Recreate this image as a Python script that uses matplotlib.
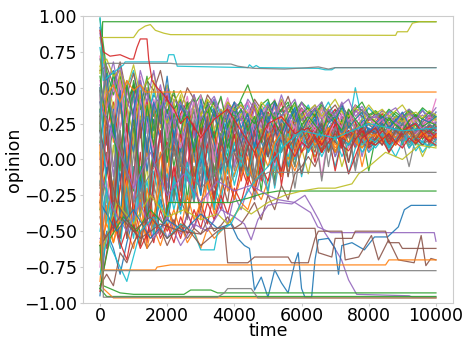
import matplotlib
matplotlib.use("Agg")
import matplotlib.pyplot as plt

# ---------------- data ----------------
# sample times of the noisy bulk of opinions
T_GRID = list(range(0, 10001, 200))

m01 = [0.92,
       0.55, 0.62, 0.48, 0.35, 0.52, 0.41, 0.30, 0.45, 0.38, 0.22,
       0.35, 0.41, 0.28, 0.33, 0.18, 0.30, 0.36, 0.25, 0.31, 0.22,
       0.34, 0.27, 0.19, 0.30, 0.26, 0.33, 0.21, 0.28, 0.24, 0.31,
       0.20, 0.27, 0.23, 0.29, 0.25, 0.18, 0.26, 0.22, 0.28, 0.24,
       0.21, 0.27, 0.23, 0.19, 0.25, 0.22, 0.26, 0.20, 0.24, 0.22]
m02 = [-0.85,
       -0.35, -0.52, -0.18, -0.41, -0.05, -0.30, 0.12, -0.22, 0.05, -0.15,
       0.10, -0.08, 0.18, 0.02, 0.25, -0.12, 0.15, 0.08, 0.22, 0.04,
       0.18, 0.28, 0.10, 0.21, 0.05, 0.24, 0.16, 0.30, 0.12, 0.20,
       0.26, 0.14, 0.22, 0.08, 0.19, 0.27, 0.15, 0.23, 0.11, 0.21,
       0.17, 0.25, 0.13, 0.22, 0.18, 0.28, 0.15, 0.23, 0.19, 0.16]
m03 = [0.35,
       0.15, -0.25, 0.05, -0.38, 0.22, -0.10, -0.45, 0.08, -0.20, 0.30,
       -0.05, 0.20, -0.28, 0.12, 0.35, -0.15, 0.05, 0.28, -0.10, 0.18,
       0.02, 0.25, 0.10, -0.22, 0.15, 0.32, 0.05, 0.20, -0.05, 0.25,
       0.12, 0.28, 0.18, 0.06, 0.24, 0.15, 0.30, 0.10, 0.22, 0.17,
       0.25, 0.12, 0.20, 0.28, 0.15, 0.21, 0.10, 0.24, 0.18, 0.26]
m04 = [-0.45,
       -0.55, -0.40, -0.62, -0.48, -0.30, -0.52, -0.44, -0.58, -0.35, -0.50,
       -0.42, -0.55, -0.38, -0.48, -0.30, -0.45, -0.22, -0.35, -0.12, -0.28,
       -0.05, -0.18, 0.05, -0.10, 0.12, 0.02, 0.18, 0.08, 0.22, 0.15,
       0.10, 0.20, 0.05, 0.16, 0.24, 0.12, 0.19, 0.08, 0.21, 0.14,
       0.18, 0.10, 0.22, 0.15, 0.25, 0.12, 0.19, 0.23, 0.16, 0.20]
m05 = [0.10,
       0.42, 0.18, 0.55, 0.30, 0.08, 0.45, 0.25, 0.38, 0.12, 0.40,
       0.22, 0.36, 0.15, 0.42, 0.28, 0.10, 0.33, 0.20, 0.38, 0.25,
       0.30, 0.18, 0.35, 0.26, 0.40, 0.22, 0.31, 0.15, 0.28, 0.34,
       0.24, 0.30, 0.19, 0.35, 0.26, 0.21, 0.32, 0.27, 0.18, 0.29,
       0.23, 0.30, 0.26, 0.20, 0.28, 0.24, 0.31, 0.22, 0.27, 0.25]
m06 = [-0.20,
       0.05, -0.32, 0.20, -0.15, 0.35, -0.40, 0.10, 0.28, -0.22, 0.15,
       0.30, -0.05, 0.22, -0.30, 0.10, 0.25, -0.08, 0.18, 0.35, 0.05,
       0.20, -0.12, 0.28, 0.15, 0.02, 0.25, 0.18, -0.05, 0.22, 0.30,
       0.15, 0.05, 0.25, 0.20, 0.12, 0.28, -0.02, 0.18, 0.24, 0.10,
       0.20, 0.26, 0.14, 0.22, 0.30, 0.18, 0.12, 0.24, 0.20, 0.15]
m07 = [0.55,
       0.30, 0.48, 0.60, 0.25, 0.42, 0.15, 0.50, 0.32, 0.45, 0.20,
       0.38, 0.28, 0.44, 0.15, 0.35, 0.40, 0.22, 0.30, 0.43, 0.26,
       0.35, 0.40, 0.28, 0.38, 0.32, 0.42, 0.25, 0.36, 0.30, 0.39,
       0.33, 0.27, 0.37, 0.30, 0.35, 0.28, 0.34, 0.25, 0.31, 0.36,
       0.30, 0.26, 0.33, 0.28, 0.32, 0.25, 0.29, 0.34, 0.27, 0.42]
m08 = [-0.65,
       -0.25, -0.48, -0.10, -0.55, -0.30, -0.05, -0.42, -0.18, -0.35, 0.02,
       -0.20, 0.08, -0.12, -0.30, 0.05, -0.15, 0.12, -0.02, 0.20, -0.08,
       0.10, 0.02, 0.18, -0.10, 0.12, 0.22, 0.05, 0.15, -0.20, 0.10,
       0.18, 0.08, 0.14, 0.22, 0.02, 0.16, 0.20, 0.10, 0.18, 0.05,
       0.15, 0.20, 0.08, 0.18, 0.12, 0.22, 0.16, 0.10, 0.19, 0.14]
m09 = [0.05,
       -0.30, 0.10, -0.45, -0.20, 0.15, -0.35, -0.05, -0.50, -0.15, 0.08,
       -0.25, 0.02, -0.38, -0.10, 0.15, -0.20, 0.05, -0.12, 0.18, -0.02,
       0.08, -0.15, 0.15, 0.05, -0.25, 0.12, 0.20, 0.00, 0.14, 0.08,
       -0.10, 0.12, 0.18, 0.05, 0.15, -0.05, 0.10, 0.20, 0.08, 0.14,
       0.10, 0.16, 0.05, 0.12, 0.18, 0.08, 0.14, 0.02, 0.12, 0.09]
m10 = [0.78,
       0.45, 0.58, 0.32, 0.50, 0.62, 0.38, 0.25, 0.48, 0.30, 0.42,
       0.28, 0.40, 0.33, 0.18, 0.38, 0.25, 0.42, 0.30, 0.20, 0.35,
       0.27, 0.38, 0.22, 0.33, 0.40, 0.28, 0.35, 0.24, 0.37, 0.30,
       0.38, 0.26, 0.32, 0.40, 0.29, 0.35, 0.22, 0.50, 0.28, 0.36,
       0.31, 0.27, 0.34, 0.29, 0.24, 0.32, 0.28, 0.35, 0.26, 0.33]
m11 = [-0.95,
       -0.50, -0.62, -0.80, -0.58, -0.40, -0.55, -0.35, -0.48, -0.28, -0.42,
       -0.20, -0.35, -0.10, -0.25, 0.02, -0.15, 0.10, -0.05, 0.15, 0.05,
       0.18, 0.08, 0.22, 0.12, 0.02, 0.20, 0.15, 0.25, 0.10, 0.18,
       0.22, 0.12, 0.25, 0.16, 0.20, 0.10, 0.24, 0.18, 0.15, 0.22,
       0.19, 0.24, 0.16, 0.21, 0.13, 0.20, 0.25, 0.17, 0.22, 0.19]
m12 = [0.25,
       0.50, 0.12, 0.38, -0.05, 0.28, 0.45, 0.02, 0.35, 0.18, -0.10,
       0.25, 0.12, 0.32, -0.02, 0.20, 0.35, 0.08, 0.28, 0.15, 0.30,
       0.12, 0.28, 0.20, 0.35, 0.05, 0.25, 0.30, 0.16, 0.27, 0.10,
       0.28, 0.20, 0.12, 0.30, 0.25, 0.15, 0.32, 0.22, 0.17, 0.26,
       0.22, 0.28, 0.18, 0.25, 0.30, 0.20, 0.26, 0.16, 0.24, 0.21]
m13 = [-0.35,
       -0.10, 0.25, -0.42, 0.05, -0.22, 0.30, -0.35, 0.12, -0.15, 0.22,
       -0.28, 0.10, 0.25, -0.18, 0.05, 0.30, -0.12, 0.18, 0.02, 0.26,
       -0.08, 0.15, 0.28, 0.05, 0.20, -0.15, 0.22, 0.10, 0.30, 0.12,
       0.20, 0.25, 0.05, 0.22, 0.15, 0.28, 0.10, 0.25, 0.18, -0.08,
       0.15, 0.22, 0.18, 0.26, 0.10, 0.20, 0.24, 0.14, 0.21, 0.17]
m14 = [0.48,
       0.20, 0.40, 0.05, 0.35, 0.52, 0.15, 0.42, 0.08, 0.30, 0.45,
       0.10, 0.32, 0.40, 0.20, 0.28, 0.05, 0.35, 0.22, 0.38, 0.15,
       0.30, 0.22, 0.38, 0.12, 0.33, 0.26, 0.40, 0.18, 0.28, 0.35,
       0.25, 0.32, 0.18, 0.28, 0.35, 0.22, 0.30, 0.26, 0.12, 0.29,
       0.26, 0.32, 0.22, 0.28, 0.18, 0.27, 0.31, 0.24, 0.29, 0.23]
m15 = [-0.55,
       -0.60, -0.38, -0.52, -0.25, -0.45, -0.58, -0.30, -0.48, -0.40, -0.55,
       -0.45, -0.52, -0.38, -0.48, -0.35, -0.50, -0.42, -0.30, -0.45, -0.25,
       -0.35, -0.20, -0.28, -0.10, -0.22, 0.02, -0.12, 0.10, 0.00, 0.12,
       0.05, 0.15, 0.08, 0.18, 0.02, 0.12, 0.20, 0.10, 0.16, 0.08,
       0.12, 0.18, 0.10, 0.15, 0.20, 0.08, 0.16, 0.12, 0.18, 0.14]
m16 = [0.62,
       0.65, 0.52, 0.68, 0.45, 0.60, 0.38, 0.55, 0.48, 0.62, 0.40,
       0.45, 0.35, 0.50, 0.42, 0.30, 0.45, 0.38, 0.28, 0.40, 0.33,
       0.38, 0.30, 0.42, 0.35, 0.27, 0.40, 0.33, 0.44, 0.30, 0.36,
       0.30, 0.36, 0.28, 0.33, 0.38, 0.30, 0.25, 0.34, 0.30, 0.27,
       0.32, 0.28, 0.25, 0.30, 0.27, 0.33, 0.29, 0.26, 0.31, 0.28]
m17 = [-0.75,
       -0.15, -0.40, 0.08, -0.28, -0.50, -0.12, -0.35, 0.02, -0.20, -0.42,
       -0.05, -0.25, 0.10, -0.18, 0.05, -0.30, 0.12, -0.08, 0.20, -0.02,
       0.15, -0.10, 0.22, 0.05, 0.18, -0.05, 0.25, 0.12, 0.02, 0.20,
       0.10, 0.22, -0.12, 0.18, 0.12, 0.25, 0.08, 0.20, 0.15, 0.05,
       0.20, 0.12, 0.25, 0.18, 0.08, 0.22, 0.15, 0.26, 0.13, 0.18]
m18 = [0.15,
       0.35, -0.05, 0.22, 0.40, -0.18, 0.30, 0.10, -0.25, 0.18, 0.35,
       0.02, 0.20, -0.15, 0.28, 0.12, -0.05, 0.30, 0.15, -0.20, 0.22,
       0.15, 0.28, -0.10, 0.20, 0.32, 0.08, 0.18, -0.12, 0.25, 0.15,
       0.22, 0.08, 0.28, 0.18, 0.12, 0.25, 0.20, -0.05, 0.22, 0.15,
       0.25, 0.18, 0.12, 0.22, 0.28, 0.15, 0.20, 0.26, 0.10, 0.21]
m19 = [0.85,
       0.60, 0.35, 0.55, 0.20, 0.45, 0.28, 0.50, 0.15, 0.38, 0.25,
       0.40, 0.18, 0.32, 0.45, 0.22, 0.35, 0.12, 0.30, 0.25, 0.40,
       0.20, 0.33, 0.25, 0.38, 0.15, 0.30, 0.22, 0.36, 0.28, 0.18,
       0.32, 0.25, 0.36, 0.20, 0.30, 0.34, 0.22, 0.28, 0.35, 0.24,
       0.28, 0.34, 0.23, 0.30, 0.26, 0.32, 0.20, 0.29, 0.33, 0.27]
m20 = [-0.15,
       -0.45, -0.20, -0.55, -0.30, -0.05, -0.40, -0.15, -0.48, -0.25, -0.10,
       -0.35, -0.15, -0.40, -0.05, -0.25, 0.08, -0.18, -0.30, 0.02, -0.12,
       0.05, -0.08, 0.12, -0.02, 0.15, -0.20, 0.08, 0.18, 0.00, 0.10,
       0.14, 0.02, 0.10, 0.18, 0.06, 0.12, -0.10, 0.08, 0.15, 0.05,
       0.10, 0.15, 0.06, 0.12, 0.18, 0.08, 0.14, 0.05, 0.11, 0.10]
m21 = [0.40,
       0.10, 0.32, -0.15, 0.25, 0.05, 0.40, -0.08, 0.28, 0.15, 0.35,
       0.18, 0.05, 0.30, 0.22, -0.05, 0.28, 0.15, 0.35, 0.08, 0.25,
       0.30, 0.12, 0.22, 0.35, 0.18, 0.05, 0.28, 0.20, 0.32, 0.15,
       0.25, 0.30, 0.15, 0.22, 0.28, 0.18, 0.33, 0.20, 0.26, 0.12,
       0.22, 0.27, 0.30, 0.18, 0.25, 0.21, 0.28, 0.24, 0.20, 0.26]
m22 = [-0.60,
       -0.45, -0.58, -0.35, -0.50, -0.62, -0.40, -0.55, -0.48, -0.60, -0.45,
       -0.52, -0.45, -0.58, -0.50, -0.62, -0.48, -0.55, -0.50, -0.45, -0.40,
       -0.30, -0.35, -0.20, -0.28, -0.15, -0.05, -0.12, 0.02, -0.08, 0.05,
       0.10, 0.02, 0.12, 0.18, 0.08, 0.14, 0.20, 0.12, 0.16, 0.10,
       0.14, 0.18, 0.12, 0.20, 0.15, 0.10, 0.17, 0.21, 0.14, 0.16]
m23 = [0.98,
       0.62, 0.45, 0.58, 0.40, 0.52, 0.35, 0.48, 0.30, 0.42, 0.50,
       0.35, 0.42, 0.28, 0.38, 0.45, 0.32, 0.40, 0.25, 0.36, 0.30,
       0.42, 0.52, 0.38, 0.28, 0.36, 0.41, 0.30, 0.38, 0.33, 0.40,
       0.35, 0.30, 0.38, 0.33, 0.28, 0.36, 0.31, 0.38, 0.34, 0.30,
       0.33, 0.29, 0.35, 0.31, 0.28, 0.34, 0.30, 0.36, 0.32, 0.29]
m24 = [-0.30,
       -0.05, -0.35, 0.15, -0.22, 0.28, -0.10, -0.40, 0.05, -0.25, 0.12,
       -0.15, 0.18, -0.05, 0.25, -0.22, 0.10, 0.20, -0.08, 0.15, 0.28,
       -0.02, 0.20, 0.12, -0.15, 0.25, 0.10, 0.18, 0.28, 0.05, 0.22,
       0.18, -0.02, 0.22, 0.15, 0.25, 0.10, 0.20, 0.14, 0.24, 0.08,
       0.18, 0.22, 0.10, 0.20, 0.15, 0.25, 0.12, 0.19, 0.23, 0.20]
m25 = [0.00,
       0.28, -0.12, 0.40, 0.10, -0.30, 0.22, 0.35, -0.05, 0.18, -0.20,
       0.12, 0.30, -0.10, 0.20, 0.05, 0.32, -0.18, 0.15, 0.25, -0.05,
       0.22, 0.10, 0.28, -0.08, 0.18, 0.25, 0.12, 0.30, 0.08, 0.20,
       0.12, 0.26, 0.20, 0.08, 0.22, 0.30, 0.16, 0.24, 0.02, 0.20,
       0.24, 0.16, 0.20, 0.27, 0.12, 0.22, 0.18, 0.25, 0.20, 0.15]
m26 = [-0.88,
       -0.80, -0.88, -0.65, -0.72, -0.58, -0.50, -0.62, -0.55, -0.48, -0.60,
       -0.50, -0.45, -0.55, -0.48, -0.52, -0.42, -0.50, -0.46, -0.40, -0.48,
       -0.45, -0.38, -0.30, -0.42, -0.25, -0.35, -0.18, -0.28, -0.10, -0.05,
       0.02, -0.05, 0.08, 0.12, 0.05, 0.15, 0.10, 0.18, 0.12, 0.08,
       0.12, 0.16, 0.10, 0.14, 0.18, 0.12, 0.15, 0.10, 0.14, 0.12]
m27 = [0.72,
       0.38, 0.55, 0.22, 0.48, 0.30, 0.58, 0.18, 0.42, 0.28, 0.50,
       0.32, 0.20, 0.40, 0.28, 0.45, 0.15, 0.35, 0.42, 0.25, 0.38,
       0.28, 0.40, 0.18, 0.32, 0.38, 0.24, 0.42, 0.30, 0.20, 0.35,
       0.30, 0.22, 0.35, 0.28, 0.18, 0.32, 0.26, 0.38, 0.22, 0.30,
       0.27, 0.22, 0.30, 0.25, 0.32, 0.20, 0.28, 0.24, 0.30, 0.26]
m28 = [-0.05,
       -0.38, -0.15, 0.20, -0.45, 0.05, -0.28, 0.15, -0.52, -0.10, 0.25,
       -0.30, 0.05, -0.42, 0.12, -0.15, 0.20, -0.35, 0.08, -0.05, 0.22,
       -0.10, 0.15, -0.28, 0.20, 0.05, -0.18, 0.22, 0.12, -0.05, 0.18,
       0.05, 0.20, -0.15, 0.15, 0.22, 0.08, 0.18, -0.08, 0.15, 0.20,
       0.12, 0.18, 0.05, 0.20, 0.14, -0.05, 0.16, 0.22, 0.10, 0.18]
m29 = [0.30,
       0.55, 0.25, 0.62, 0.38, 0.15, 0.48, 0.30, 0.55, 0.22, 0.40,
       0.28, 0.45, 0.15, 0.38, 0.30, 0.42, 0.20, 0.35, 0.28, 0.10,
       0.32, 0.25, 0.40, 0.18, 0.30, 0.36, 0.22, 0.12, 0.34, 0.28,
       0.22, 0.34, 0.28, 0.16, 0.30, 0.25, 0.35, 0.20, 0.28, 0.32,
       0.26, 0.20, 0.29, 0.24, 0.31, 0.22, 0.27, 0.18, 0.25, 0.29]
m30 = [-0.50,
       -0.20, -0.45, 0.02, -0.32, -0.55, -0.15, -0.38, -0.08, -0.30, -0.48,
       -0.12, -0.30, -0.02, -0.25, 0.08, -0.18, -0.35, 0.02, -0.10, 0.12,
       -0.05, 0.10, -0.18, 0.05, 0.15, -0.08, 0.12, 0.02, 0.18, -0.12,
       0.08, 0.15, 0.02, 0.12, -0.05, 0.14, 0.10, 0.18, 0.05, 0.12,
       0.08, 0.14, 0.10, 0.02, 0.12, 0.16, 0.06, 0.13, 0.09, 0.11]
m31 = [0.20,
       -0.10, 0.35, -0.40, 0.15, 0.48, -0.22, 0.30, -0.05, 0.40, -0.30,
       0.20, -0.15, 0.32, 0.05, -0.25, 0.28, 0.12, -0.10, 0.25, 0.35,
       0.10, 0.28, 0.18, -0.05, 0.30, 0.20, 0.12, 0.26, 0.34, 0.15,
       0.22, 0.28, 0.14, 0.25, 0.30, 0.18, 0.24, 0.12, 0.27, 0.21,
       0.19, 0.25, 0.22, 0.28, 0.16, 0.23, 0.26, 0.20, 0.24, 0.22]
m32 = [-0.70,
       -0.40, -0.15, -0.55, 0.10, -0.35, -0.60, -0.20, -0.45, 0.05, -0.30,
       -0.50, -0.20, -0.38, -0.05, -0.42, -0.15, -0.30, 0.05, -0.22, -0.10,
       0.02, -0.15, 0.10, -0.05, 0.18, 0.05, -0.10, 0.15, 0.08, 0.20,
       0.12, 0.18, 0.05, 0.22, 0.10, 0.16, 0.25, 0.12, 0.08, 0.18,
       0.16, 0.12, 0.20, 0.15, 0.22, 0.18, 0.12, 0.19, 0.15, 0.17]
m33 = [0.58,
       0.25, 0.60, 0.40, 0.12, 0.55, 0.35, 0.58, 0.20, 0.45, 0.32,
       0.48, 0.25, 0.38, 0.42, 0.18, 0.40, 0.30, 0.44, 0.22, 0.36,
       0.40, 0.30, 0.25, 0.38, 0.42, 0.28, 0.35, 0.40, 0.26, 0.32,
       0.36, 0.30, 0.40, 0.26, 0.33, 0.38, 0.29, 0.35, 0.40, 0.31,
       0.34, 0.30, 0.27, 0.33, 0.29, 0.35, 0.31, 0.28, 0.33, 0.30]
m34 = [-0.25,
       0.18, -0.50, -0.20, 0.25, -0.42, 0.05, -0.58, -0.15, 0.20, -0.38,
       -0.05, -0.32, 0.15, -0.20, 0.22, -0.10, -0.28, 0.12, -0.02, 0.18,
       -0.15, 0.08, 0.20, -0.05, 0.12, 0.25, -0.18, 0.10, 0.22, 0.05,
       0.15, 0.22, 0.10, 0.18, -0.08, 0.14, 0.20, 0.16, 0.22, 0.10,
       0.14, 0.20, 0.16, 0.10, 0.18, 0.22, 0.13, 0.17, 0.20, 0.15]
m35 = [0.88,
       0.50, 0.68, 0.42, 0.55, 0.30, 0.62, 0.45, 0.35, 0.52, 0.28,
       0.42, 0.36, 0.30, 0.45, 0.25, 0.38, 0.44, 0.32, 0.28, 0.40,
       0.35, 0.28, 0.40, 0.32, 0.25, 0.38, 0.30, 0.36, 0.42, 0.27,
       0.32, 0.38, 0.28, 0.35, 0.30, 0.40, 0.26, 0.33, 0.37, 0.30,
       0.29, 0.34, 0.31, 0.26, 0.32, 0.35, 0.28, 0.31, 0.27, 0.33]
m36 = [-0.40,
       -0.62, -0.35, -0.55, -0.20, -0.48, -0.60, -0.38, -0.25, -0.52, -0.32,
       -0.45, -0.28, -0.40, -0.18, -0.35, -0.05, -0.25, -0.12, -0.30, 0.05,
       -0.08, 0.10, -0.15, 0.05, 0.15, -0.02, 0.20, 0.08, 0.15, -0.10,
       0.10, 0.16, 0.05, 0.20, 0.12, 0.08, 0.18, 0.14, 0.20, 0.10,
       0.15, 0.10, 0.18, 0.12, 0.16, 0.20, 0.14, 0.10, 0.17, 0.13]
m37 = [0.45,
       -0.05, 0.30, 0.55, 0.10, -0.20, 0.42, 0.25, 0.05, 0.50, 0.15,
       0.35, 0.08, 0.25, 0.40, 0.12, 0.30, -0.02, 0.28, 0.38, 0.18,
       0.25, 0.35, 0.12, 0.28, 0.20, 0.38, 0.15, 0.30, 0.22, 0.10,
       0.26, 0.20, 0.32, 0.15, 0.28, 0.22, 0.35, 0.18, 0.25, 0.30,
       0.24, 0.28, 0.20, 0.26, 0.22, 0.30, 0.25, 0.21, 0.28, 0.24]
m38 = [-0.10,
       0.22, -0.28, 0.45, -0.12, 0.30, -0.40, 0.15, 0.38, -0.25, 0.08,
       0.28, -0.18, 0.12, 0.35, -0.10, 0.22, 0.05, -0.25, 0.18, 0.30,
       0.05, 0.22, -0.12, 0.18, 0.28, 0.10, -0.08, 0.25, 0.15, 0.32,
       0.20, 0.12, 0.28, -0.05, 0.22, 0.18, 0.26, 0.15, 0.20, 0.25,
       0.20, 0.16, 0.24, 0.18, 0.26, 0.12, 0.22, 0.19, 0.25, 0.21]
m39 = [0.65,
       0.70, 0.58, 0.62, 0.50, 0.66, 0.45, 0.55, 0.60, 0.38, 0.52,
       0.40, 0.48, 0.35, 0.44, 0.30, 0.42, 0.36, 0.28, 0.40, 0.34,
       0.38, 0.32, 0.28, 0.40, 0.35, 0.30, 0.42, 0.33, 0.38, 0.29,
       0.34, 0.38, 0.30, 0.36, 0.42, 0.33, 0.30, 0.36, 0.32, 0.38,
       0.32, 0.35, 0.30, 0.34, 0.38, 0.31, 0.33, 0.29, 0.34, 0.31]
m40 = [-0.80,
       -0.55, -0.30, -0.62, -0.18, -0.45, -0.05, -0.35, -0.52, -0.22, -0.40,
       -0.15, -0.38, -0.08, -0.28, 0.05, -0.20, -0.32, -0.10, 0.08, -0.18,
       0.02, -0.12, 0.12, 0.00, -0.22, 0.10, 0.18, -0.05, 0.12, 0.20,
       0.05, 0.14, 0.20, 0.08, 0.16, 0.02, 0.12, 0.18, 0.10, 0.15,
       0.12, 0.18, 0.08, 0.14, 0.20, 0.10, 0.16, 0.12, 0.08, 0.14]
m41 = [0.33,
       0.60, 0.15, 0.48, -0.10, 0.35, 0.55, 0.05, 0.40, 0.25, 0.58,
       0.15, 0.38, 0.28, 0.05, 0.42, 0.20, 0.35, 0.10, 0.30, 0.40,
       0.22, 0.32, 0.08, 0.35, 0.25, 0.40, 0.18, 0.28, 0.36, 0.20,
       0.28, 0.35, 0.20, 0.30, 0.25, 0.38, 0.22, 0.28, 0.33, 0.18,
       0.25, 0.30, 0.22, 0.27, 0.33, 0.24, 0.20, 0.28, 0.26, 0.30]
m42 = [-0.58,
       -0.32, -0.58, -0.42, -0.15, -0.50, -0.28, -0.62, -0.40, -0.18, -0.48,
       -0.35, -0.50, -0.25, -0.42, -0.30, -0.15, -0.38, -0.22, -0.05, -0.28,
       -0.12, 0.02, -0.20, 0.08, -0.05, 0.12, 0.20, -0.10, 0.05, 0.15,
       0.20, 0.10, 0.15, 0.22, 0.05, 0.18, 0.12, 0.20, -0.05, 0.15,
       0.18, 0.14, 0.20, 0.10, 0.16, 0.22, 0.15, 0.19, 0.13, 0.17]
m43 = [0.12,
       0.45, 0.20, -0.08, 0.52, 0.28, -0.15, 0.38, 0.10, 0.48, -0.02,
       0.32, 0.18, 0.40, 0.05, 0.25, 0.38, 0.15, 0.32, 0.08, 0.28,
       0.35, 0.20, 0.30, 0.12, 0.38, 0.26, 0.18, 0.32, 0.40, 0.24,
       0.30, 0.24, 0.18, 0.32, 0.27, 0.20, 0.35, 0.28, 0.22, 0.30,
       0.26, 0.22, 0.29, 0.24, 0.20, 0.27, 0.31, 0.23, 0.26, 0.24]
m44 = [-0.92,
       -0.65, -0.40, -0.58, -0.70, -0.45, -0.62, -0.52, -0.38, -0.55, -0.45,
       -0.58, -0.40, -0.52, -0.35, -0.48, -0.30, -0.42, -0.25, -0.38, -0.20,
       -0.30, -0.12, -0.22, -0.05, -0.15, 0.05, -0.08, 0.10, 0.02, 0.12,
       0.08, 0.15, 0.05, 0.12, 0.18, 0.10, 0.06, 0.14, 0.20, 0.12,
       0.10, 0.14, 0.18, 0.12, 0.08, 0.15, 0.11, 0.16, 0.13, 0.10]
m45 = [0.52,
       0.35, 0.50, 0.65, 0.42, 0.28, 0.55, 0.40, 0.62, 0.35, 0.48,
       0.25, 0.40, 0.32, 0.45, 0.28, 0.36, 0.42, 0.20, 0.38, 0.32,
       0.28, 0.42, 0.35, 0.22, 0.38, 0.30, 0.45, 0.32, 0.26, 0.40,
       0.30, 0.35, 0.40, 0.27, 0.32, 0.38, 0.42, 0.30, 0.35, 0.28,
       0.30, 0.27, 0.33, 0.36, 0.29, 0.32, 0.28, 0.34, 0.30, 0.36]
m46 = [-0.18,
       0.30, -0.38, 0.12, -0.55, -0.10, 0.25, -0.45, 0.02, 0.35, -0.28,
       0.10, -0.22, 0.25, -0.12, 0.05, 0.30, -0.20, 0.15, -0.05, 0.22,
       0.12, -0.08, 0.20, 0.28, 0.02, 0.18, 0.25, -0.12, 0.15, 0.22,
       0.10, 0.18, 0.25, 0.05, 0.20, 0.14, -0.02, 0.22, 0.16, 0.20,
       0.18, 0.22, 0.12, 0.20, 0.16, 0.24, 0.14, 0.21, 0.18, 0.23]

MASS = [m01, m02, m03, m04, m05, m06, m07, m08, m09, m10,
        m11, m12, m13, m14, m15, m16, m17, m18, m19, m20,
        m21, m22, m23, m24, m25, m26, m27, m28, m29, m30,
        m31, m32, m33, m34, m35, m36, m37, m38, m39, m40,
        m41, m42, m43, m44, m45, m46]

# individually traced opinions that stay apart from the bulk
green_top_t = [0, 80, 10000]
green_top_v = [0.20, 0.96, 0.96]

olive_top_t = [0, 60, 1000, 1150, 1350, 1500, 1650, 1900, 2100, 8800, 8850, 9150, 9300, 9500, 10000]
olive_top_v = [0.60, 0.85, 0.85, 0.90, 0.93, 0.94, 0.90, 0.88, 0.87, 0.865, 0.89, 0.89, 0.95, 0.96, 0.96]

cyan_hi_t = [0, 100, 700, 750, 2000, 2050, 2200, 2300, 4400, 4450, 4550, 4650, 4750, 6500, 6700, 6900, 7000, 10000]
cyan_hi_v = [1.00, 0.55, 0.66, 0.68, 0.68, 0.73, 0.73, 0.65, 0.64, 0.66, 0.64, 0.655, 0.64, 0.635, 0.625, 0.625, 0.64, 0.64]

gray_hi_t = [0, 200, 2100, 2300, 3900, 4100, 4400, 4600, 5500, 6200, 6500, 6800, 7000, 10000]
gray_hi_v = [0.30, 0.67, 0.67, 0.665, 0.665, 0.65, 0.64, 0.635, 0.63, 0.64, 0.645, 0.63, 0.64, 0.64]

orange_mid_t = [0, 200, 400, 600, 800, 1000, 1200, 1350, 10000]
orange_mid_v = [-0.30, 0.45, 0.52, 0.40, 0.55, 0.48, 0.52, 0.47, 0.47]

red_hi_t = [0, 100, 300, 600, 900, 1000, 1100, 1200, 1400, 1450, 1550, 1700, 1900, 2200, 2400,
            2600, 3000, 3400, 3800, 4200, 4600, 5000, 5400, 5800, 6200, 6600, 7000, 7400, 7800,
            8200, 8600, 9000, 9400, 9800, 10000]
red_hi_v = [0.90, 0.75, 0.72, 0.73, 0.70, 0.70, 0.78, 0.84, 0.84, 0.70, 0.55, 0.50, 0.45, 0.35, 0.25,
            0.30, 0.15, 0.28, 0.35, 0.20, 0.05, 0.25, 0.30, 0.18, 0.22, 0.10, 0.28, -0.10, 0.15,
            0.22, 0.05, 0.20, 0.25, 0.12, 0.18]

green_mid_t = [0, 300, 700, 1100, 1500, 1900, 2050, 3900, 4400, 4800, 5300, 10000]
green_mid_v = [-0.90, -0.55, -0.40, -0.50, -0.35, -0.45, -0.30, -0.30, -0.27, -0.24, -0.22, -0.22]

olive_low_t = [0, 500, 1000, 1500, 2000, 2500, 3000, 3500, 3800, 4200, 4500, 5000, 5500, 6000,
               6500, 7000, 7500, 7700, 8000, 8500, 9000, 9500, 10000]
olive_low_v = [-0.70, -0.30, -0.45, -0.25, -0.40, -0.35, -0.42, -0.38, -0.45, -0.33, -0.38, -0.30,
               -0.25, -0.22, -0.20, -0.20, -0.17, -0.10, -0.05, 0.05, 0.00, 0.10, 0.08]

purple_a_t = [0, 400, 800, 1200, 1600, 2000, 2400, 2800, 3200, 3600, 4000, 4300, 4500, 4700, 5000,
              5330, 5710, 6100, 6300, 6510, 6690, 6890, 7190, 7400, 7640, 9200, 9300, 10000]
purple_a_v = [-0.10, -0.35, -0.50, -0.30, -0.55, -0.40, -0.60, -0.45, -0.50, -0.35, -0.40, -0.45,
              -0.56, -0.42, -0.32, -0.30, -0.31, -0.25, -0.33, -0.42, -0.51, -0.58, -0.70, -0.84,
              -0.94, -0.95, -0.96, -0.96]

purple_b_t = [0, 500, 1000, 1500, 2000, 2500, 3000, 3500, 4000, 4500, 5000, 5300, 5800, 6270,
              6480, 6870, 9950, 10000]
purple_b_v = [0.40, 0.10, -0.20, 0.05, -0.25, -0.10, -0.30, -0.15, -0.22, -0.18, -0.25, -0.28,
              -0.30, -0.37, -0.47, -0.51, -0.51, -0.57]

blue_low_t = [0, 500, 1000, 1500, 2000, 2500, 3000, 3500, 3900, 4100, 4300, 4450, 4600, 4800,
              5000, 5200, 5400, 5600, 5800, 5900, 6000, 6100, 6300, 6400, 6500, 6800, 7000,
              7100, 7200, 7500, 7870, 8170, 8560, 8880, 9060, 9260, 10000]
blue_low_v = [-0.30, -0.50, -0.35, -0.55, -0.42, -0.50, -0.38, -0.48, -0.45, -0.55, -0.60, -0.62,
              -0.91, -0.82, -0.96, -0.77, -0.86, -0.93, -0.72, -0.65, -0.90, -0.96, -0.96, -0.70,
              -0.56, -0.55, -0.62, -0.80, -0.60, -0.58, -0.63, -0.54, -0.54, -0.47, -0.35, -0.32,
              -0.32]

cyan_low_t = [0, 300, 600, 800, 1200, 1600, 2000, 2400, 2800, 3000, 3400, 3500, 3900, 4200,
              4600, 5000, 5500, 6000, 7000, 8000, 9000, 10000]
cyan_low_v = [0.50, -0.60, -0.75, -0.85, -0.50, -0.40, -0.55, -0.45, -0.51, -0.63, -0.63, -0.51,
              -0.45, -0.30, -0.15, -0.05, 0.10, 0.20, 0.15, 0.25, 0.20, 0.22]

brown_a_t = [0, 600, 1200, 1800, 2400, 3000, 3200, 6400, 6500, 6900, 7000, 7500, 7600, 8500,
             8600, 8900, 9000, 10000]
brown_a_v = [-0.60, -0.40, -0.55, -0.45, -0.50, -0.52, -0.48, -0.48, -0.65, -0.68, -0.55, -0.55,
             -0.50, -0.50, -0.58, -0.58, -0.62, -0.62]

brown_b_t = [0, 500, 1000, 1500, 2000, 2500, 3000, 3500, 3700, 3800, 4400, 4600, 5600, 5700,
             6200, 6400, 6500, 7200, 7300, 7700, 8080, 8290, 8590, 8880, 9350, 9560, 9700,
             9850, 10000]
brown_b_v = [0.20, -0.30, -0.50, -0.40, -0.55, -0.45, -0.60, -0.50, -0.47, -0.72, -0.72, -0.68,
             -0.68, -0.72, -0.72, -0.55, -0.50, -0.50, -0.70, -0.68, -0.53, -0.70, -0.56, -0.70,
             -0.72, -0.53, -0.74, -0.69, -0.70]

gray_mid_t = [0, 500, 1000, 2000, 3000, 4000, 4600, 5000, 10000]
gray_mid_v = [0.70, 0.20, -0.30, 0.10, -0.20, 0.05, -0.15, -0.09, -0.09]

orange_low_t = [0, 50, 1650, 1700, 2100, 8500, 8600, 10000]
orange_low_v = [0.10, -0.77, -0.77, -0.75, -0.735, -0.735, -0.70, -0.70]

gray_low_t = [0, 100, 10000]
gray_low_v = [0.50, -0.775, -0.775]

green_bot_t = [0, 100, 300, 600, 1000, 2500, 2700, 3300, 3500, 10000]
green_bot_v = [-0.60, -0.88, -0.90, -0.93, -0.94, -0.94, -0.91, -0.91, -0.93, -0.93]

green_bot2_t = [0, 200, 10000]
green_bot2_v = [-0.90, -0.955, -0.955]

orange_bot_t = [0, 100, 400, 10000]
orange_bot_v = [-0.30, -0.90, -0.965, -0.965]

gray_bot_t = [0, 100, 3500, 3700, 3800, 4500, 4700, 10000]
gray_bot_v = [0.30, -0.96, -0.96, -0.93, -0.90, -0.90, -0.965, -0.965]

TRACED = [
    (green_top_t, green_top_v, "#2ca02c"),
    (olive_top_t, olive_top_v, "#bcbd22"),
    (cyan_hi_t, cyan_hi_v, "#17becf"),
    (gray_hi_t, gray_hi_v, "#7f7f7f"),
    (orange_mid_t, orange_mid_v, "#ff7f0e"),
    (red_hi_t, red_hi_v, "#d62728"),
    (green_mid_t, green_mid_v, "#2ca02c"),
    (olive_low_t, olive_low_v, "#bcbd22"),
    (purple_a_t, purple_a_v, "#9467bd"),
    (purple_b_t, purple_b_v, "#9467bd"),
    (blue_low_t, blue_low_v, "#1f77b4"),
    (cyan_low_t, cyan_low_v, "#17becf"),
    (brown_a_t, brown_a_v, "#8c564b"),
    (brown_b_t, brown_b_v, "#8c564b"),
    (gray_mid_t, gray_mid_v, "#7f7f7f"),
    (orange_low_t, orange_low_v, "#ff7f0e"),
    (gray_low_t, gray_low_v, "#7f7f7f"),
    (green_bot_t, green_bot_v, "#2ca02c"),
    (green_bot2_t, green_bot2_v, "#2ca02c"),
    (orange_bot_t, orange_bot_v, "#ff7f0e"),
    (gray_bot_t, gray_bot_v, "#7f7f7f"),
]

Y_TICKS = [-1.00, -0.75, -0.50, -0.25, 0.00, 0.25, 0.50, 0.75, 1.00]
X_TICKS = [0, 2000, 4000, 6000, 8000, 10000]

# ---------------- drawing ----------------
for i, s in enumerate(MASS):
    assert len(s) == len(T_GRID), (i, len(s))

fig = plt.figure(figsize=(4.62, 3.40), dpi=100)
ax = fig.add_axes([0.18, 0.109, 0.80, 0.844])

for s in MASS:
    ax.plot(T_GRID, s, lw=0.9, alpha=0.9)
for t, v, c in TRACED:
    ax.plot(t, v, lw=0.9, color=c, alpha=0.9)

ax.set_ylim(-1, 1)
ax.set_xlim(-500, 10500)
ax.set_yticks(Y_TICKS)
ax.set_xticks(X_TICKS)
ax.tick_params(labelsize=12.5, color="#cccccc", length=2)
ax.tick_params(axis="x", pad=1)
ax.tick_params(axis="y", pad=2.5)
for sp in ax.spines.values():
    sp.set_color("#cccccc")
ax.set_xlabel("time", fontsize=12.5, labelpad=-2)
ax.set_ylabel("opinion", fontsize=12.5, labelpad=1)

fig.savefig("out.png", dpi=100)
